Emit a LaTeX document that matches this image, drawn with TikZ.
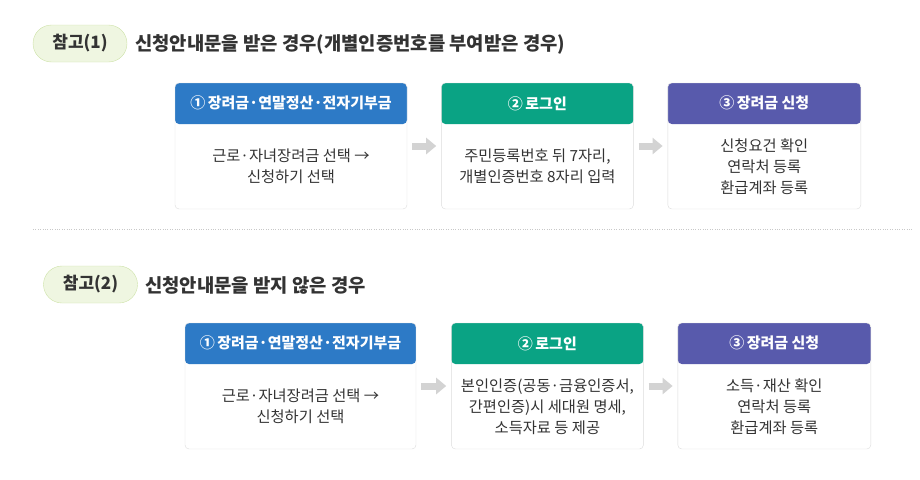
\documentclass[tikz,border=0pt]{standalone}
\usepackage{fontspec}
\setmainfont{Noto Sans CJK KR}
\usepackage{xcolor}
\usetikzlibrary{positioning, arrows.meta}

\definecolor{stepblue}{HTML}{2D7AC6}
\definecolor{stepgreen}{HTML}{0AA384}
\definecolor{steppurple}{HTML}{585AAC}
\definecolor{tagfill}{HTML}{EFF6E1}
\definecolor{tagline}{HTML}{CDE2A8}
\definecolor{cardline}{HTML}{DCDCDC}
\definecolor{arrowgray}{HTML}{D3D3D3}
\definecolor{textgray}{HTML}{333333}
\definecolor{sepline}{HTML}{C8C8C8}

\begin{document}
\begin{tikzpicture}[x=1pt, y=1pt, node distance=34pt]
		% Define styles for the cards, tags and arrows
		\tikzstyle{card} = [draw=cardline, fill=white, rounded corners=4pt, minimum height=126pt, inner sep=0pt,
			path picture={\fill[#1] (path picture bounding box.north west) rectangle ([yshift=-41pt]path picture bounding box.north east);}]
		\tikzstyle{head} = [text=white, font=\bfseries\fontsize{15}{17}\selectfont, inner sep=0pt]
		\tikzstyle{body} = [text=textgray, align=center, font=\fontsize{15.3}{21}\selectfont, inner sep=0pt]
		\tikzstyle{tag} = [fill=tagfill, draw=tagline, rounded corners=18.5pt, minimum width=94pt, minimum height=37pt,
			text=textgray, font=\bfseries\fontsize{17}{19}\selectfont]
		\tikzstyle{title} = [anchor=west, inner sep=0pt, text=textgray, font=\bfseries\fontsize{18.8}{21}\selectfont]
		\tikzstyle{arrow} = [draw=arrowgray, line width=7pt, -{Triangle[length=10pt, width=16pt]}, shorten >=5pt, shorten <=5pt]

		\useasboundingbox (0,0) rectangle (920,-479);

		% Case 1
		\node (tag1) [tag] at (80,-43.5) {참고(1)};
		\node (title1) [title] at (135,-44) {신청안내문을 받은 경우(개별인증번호를 부여받은 경우)};

		\node (card11) [card=stepblue, minimum width=232pt] at (291,-146) {};
		\node (card12) [card=stepgreen, minimum width=192pt, right=of card11] {};
		\node (card13) [card=steppurple, minimum width=193pt, right=of card12] {};

		\node (head11) [head] at ([yshift=-20.5pt]card11.north) {①\,장려금·연말정산·전자기부금};
		\node (head12) [head] at ([yshift=-20.5pt]card12.north) {②\,로그인};
		\node (head13) [head] at ([yshift=-20.5pt]card13.north) {③\,장려금 신청};

		\node (body11) [body] at ([yshift=-20.5pt]card11.center) {근로·자녀장려금 선택 →\\신청하기 선택};
		\node (body12) [body] at ([yshift=-20.5pt]card12.center) {주민등록번호 뒤 7자리,\\개별인증번호 8자리 입력};
		\node (body13) [body] at ([yshift=-20.5pt]card13.center) {신청요건 확인\\연락처 등록\\환급계좌 등록};

		\draw [arrow] (card11) -- (card12);
		\draw [arrow] (card12) -- (card13);

		% Separator
		\coordinate (sepL) at (33,-229.5);
		\coordinate (sepR) at (913,-229.5);
		\draw [sepline, dotted] (sepL) -- (sepR);

		% Case 2
		\node (tag2) [tag] at (90.5,-284.5) {참고(2)};
		\node (title2) [title] at (145,-285) {신청안내문을 받지 않은 경우};

		\node (card21) [card=stepblue, minimum width=231pt] at (300.5,-386) {};
		\node (card22) [card=stepgreen, minimum width=192pt, right=35pt of card21] {};
		\node (card23) [card=steppurple, minimum width=193pt, right=of card22] {};

		\node (head21) [head] at ([yshift=-20.5pt]card21.north) {①\,장려금·연말정산·전자기부금};
		\node (head22) [head] at ([yshift=-20.5pt]card22.north) {②\,로그인};
		\node (head23) [head] at ([yshift=-20.5pt]card23.north) {③\,장려금 신청};

		\node (body21) [body] at ([yshift=-20.5pt]card21.center) {근로·자녀장려금 선택 →\\신청하기 선택};
		\node (body22) [body] at ([yshift=-20.5pt]card22.center) {본인인증(공동·금융인증서,\\간편인증)시 세대원 명세,\\소득자료 등 제공};
		\node (body23) [body] at ([yshift=-20.5pt]card23.center) {소득·재산 확인\\연락처 등록\\환급계좌 등록};

		\draw [arrow] (card21) -- (card22);
		\draw [arrow] (card22) -- (card23);
	\end{tikzpicture}
\end{document}
